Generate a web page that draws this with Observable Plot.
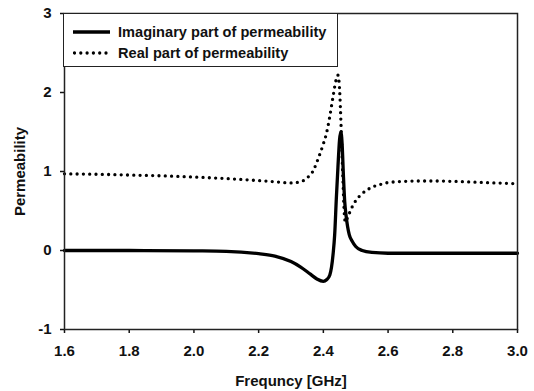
<!DOCTYPE html>
<html><head><meta charset="utf-8">
<script src="https://cdn.jsdelivr.net/npm/d3@7"></script>
<script src="https://cdn.jsdelivr.net/npm/@observablehq/plot@0.6"></script>
<style>
body{margin:0;background:#fff;}
#chart{position:relative;width:534px;height:391px;font-family:"Liberation Sans",Arial,sans-serif;font-weight:bold;}
#legend{position:absolute;left:63px;top:13px;width:275px;height:54px;border:1.5px solid #222;box-sizing:border-box;background:#fff;font-size:14.6px;color:#111;}
.row{position:absolute;left:9px;height:16px;display:flex;align-items:center;white-space:nowrap;}
.row svg{margin-right:8px;}
</style>
</head><body>
<div id="chart"></div>
<script>
// Series names
const seriesNames = ["Imaginary part of permeability", "Real part of permeability"];

// Imaginary part (solid)
const imagFreq = [1.60,1.80,2.00,2.10,2.20,2.25,2.30,2.33,2.36,2.38,2.40,2.41,2.42,2.43,2.435,2.44,2.445,2.45,2.454,2.458,2.462,2.466,2.47,2.475,2.48,2.49,2.50,2.52,2.55,2.60,2.80,3.00];
const imagVals = [0.0,0.0,-0.005,-0.01,-0.04,-0.07,-0.14,-0.21,-0.30,-0.36,-0.39,-0.37,-0.31,-0.05,0.20,0.65,1.05,1.40,1.50,1.35,0.95,0.62,0.45,0.30,0.20,0.11,0.05,0.00,-0.025,-0.035,-0.035,-0.035];

// Real part (dotted)
const realFreq = [1.60,1.70,1.80,1.90,2.00,2.10,2.20,2.25,2.30,2.33,2.35,2.37,2.38,2.39,2.40,2.41,2.42,2.43,2.44,2.445,2.45,2.455,2.46,2.465,2.468,2.475,2.49,2.50,2.52,2.55,2.58,2.60,2.65,2.70,2.75,2.80,2.90,3.00];
const realVals = [0.97,0.965,0.955,0.945,0.93,0.91,0.885,0.87,0.855,0.87,0.92,1.02,1.12,1.23,1.35,1.49,1.70,1.95,2.17,2.22,2.05,1.55,0.95,0.45,0.36,0.42,0.56,0.63,0.72,0.80,0.84,0.86,0.875,0.88,0.88,0.875,0.86,0.845];

// Axis ticks
const xTicks = [1.6,1.8,2.0,2.2,2.4,2.6,2.8,3.0];
const yTicks = [-1,0,1,2,3];

const imag = imagFreq.map((f,i)=>({f, v: imagVals[i]}));
const real = realFreq.map((f,i)=>({f, v: realVals[i]}));

const plot = Plot.plot({
  width: 534, height: 391,
  marginLeft: 64, marginRight: 17, marginTop: 13, marginBottom: 62,
  style: {fontFamily: '"Liberation Sans", Arial, sans-serif', fontSize: "15px", fontWeight: "bold", color: "#111", background: "#fff"},
  x: {domain: [1.6, 3.0]},
  y: {domain: [-1, 3]},
  marks: [
    Plot.axisX({ticks: xTicks, tickFormat: d3.format(".1f"), tickSize: 4, tickPadding: 12, strokeWidth: 1.5,
      label: "Frequncy [GHz]", labelAnchor: "center", labelOffset: 56, labelArrow: false, fontSize: 15}),
    Plot.axisY({ticks: yTicks, tickFormat: d => String(d), tickSize: 4, tickPadding: 9, strokeWidth: 1.5,
      label: "Permeability", labelAnchor: "center", labelOffset: 50, labelArrow: false, fontSize: 15}),
    Plot.line(imag, {x: "f", y: "v", stroke: "#000", strokeWidth: 3.3, curve: "monotone-x"}),
    Plot.line(real, {x: "f", y: "v", stroke: "#000", strokeWidth: 3.3, strokeDasharray: "0,6.3", strokeLinecap: "round", curve: "monotone-x"}),
    Plot.frame({stroke: "#222", strokeWidth: 1.5})
  ]
});
const chart = document.getElementById("chart");
chart.appendChild(plot);

// Legend
const legend = document.createElement("div");
legend.id = "legend";
const styles = [{dash: null}, {dash: "0,6.3"}];
const rowTops = [10, 31];
seriesNames.forEach((name, i) => {
  const row = document.createElement("div");
  row.className = "row";
  row.style.top = rowTops[i] + "px";
  const svg = d3.create("svg").attr("width", 37).attr("height", 6);
  const ln = svg.append("line").attr("x1", i ? 1.5 : 0).attr("x2", i ? 34 : 37).attr("y1", 3).attr("y2", 3)
    .attr("stroke", "#000").attr("stroke-width", 3.3);
  if (styles[i].dash) ln.attr("stroke-dasharray", styles[i].dash).attr("stroke-linecap", "round");
  row.appendChild(svg.node());
  const t = document.createElement("span");
  t.textContent = name;
  row.appendChild(t);
  legend.appendChild(row);
});
chart.appendChild(legend);
</script>
</body></html>
